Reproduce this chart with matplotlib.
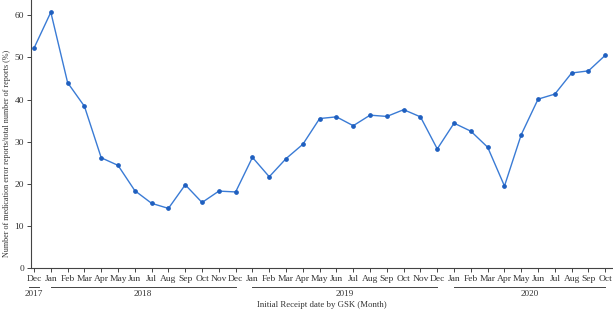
import matplotlib
matplotlib.use("Agg")
import matplotlib.pyplot as plt
import matplotlib.transforms as mtransforms

# ── Data ──────────────────────────────────────────────────────────────────────
months = ["Dec",
          "Jan", "Feb", "Mar", "Apr", "May", "Jun", "Jul", "Aug", "Sep", "Oct", "Nov", "Dec",
          "Jan", "Feb", "Mar", "Apr", "May", "Jun", "Jul", "Aug", "Sep", "Oct", "Nov", "Dec",
          "Jan", "Feb", "Mar", "Apr", "May", "Jun", "Jul", "Aug", "Sep", "Oct"]
values = [52.2,
          60.7, 44.0, 38.4, 26.2, 24.4, 18.4, 15.4, 14.2, 19.8, 15.6, 18.3, 18.1,
          26.3, 21.7, 26.0, 29.4, 35.5, 35.9, 33.8, 36.3, 36.0, 37.6, 35.9, 28.3,
          34.4, 32.5, 28.7, 19.5, 31.7, 40.1, 41.3, 46.3, 46.8, 50.5]
years = ["2017", "2018", "2019", "2020"]
year_months = [1, 12, 12, 10]   # number of months in each year group

FONT = "Liberation Serif"
LINE = "#3a7bd5"
MARK = "#1f5fbf"
TXT = "#333333"

# ── Canvas ────────────────────────────────────────────────────────────────────
fig = plt.figure(figsize=(6.13, 3.10), dpi=100)
ax = fig.add_axes([31 / 613, 1 - 268.3 / 310, 581 / 613, 268.3 / 310])

x = list(range(len(values)))
ax.plot(x, values, color=LINE, lw=1.0, marker="o", ms=2.4,
        mfc=MARK, mec=MARK, zorder=3)

ax.set_xlim(-0.18, len(values) - 1 + 0.4)
ax.set_ylim(0, 63.6)
ax.set_yticks([0, 10, 20, 30, 40, 50, 60])
ax.set_xticks(x)
ax.set_xticklabels(months)

for s in ["top", "right"]:
    ax.spines[s].set_visible(False)
for s in ["left", "bottom"]:
    ax.spines[s].set_color("#444444")
    ax.spines[s].set_linewidth(0.8)

ax.tick_params(axis="both", length=3, width=0.7, color="#444444",
               labelsize=6.8, labelcolor=TXT, pad=2)
for lab in ax.get_xticklabels() + ax.get_yticklabels():
    lab.set_fontfamily(FONT)

# ── Year groups under the month labels ───────────────────────────────────────
trans = mtransforms.blended_transform_factory(ax.transData, ax.transAxes)
start = 0
for yr, n in zip(years, year_months):
    first, last = start, start + n - 1
    pad = 0.3 if n == 1 else 0.0
    ax.plot([first - pad, last + pad], [-0.071, -0.071], transform=trans,
            color="#444444", lw=0.7, clip_on=False)
    ax.text((first + last) / 2, -0.094, yr, transform=trans, ha="center",
            va="center", fontsize=6.6, color=TXT, family=FONT)
    start += n

ax.text(0.50, -0.137, "Initial Receipt date by GSK (Month)", transform=ax.transAxes,
        ha="center", va="center", fontsize=6.3, color=TXT, family=FONT)
ax.set_ylabel("Number of medication error reports/total number of reports (%)",
              fontsize=5.9, color=TXT, family=FONT)
ax.yaxis.set_label_coords(-20 / 581, (268.3 - 153) / 268.3)

fig.savefig("out.png", dpi=100, facecolor="white")
